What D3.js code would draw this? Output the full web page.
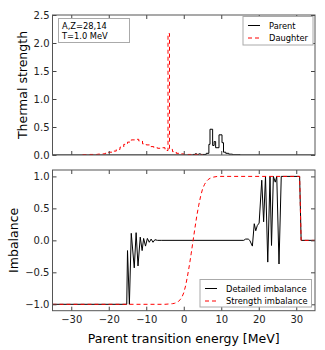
<!DOCTYPE html>
<html>
<head>
<meta charset="utf-8">
<script src="https://cdn.jsdelivr.net/npm/d3@7"></script>
<style>
  body { margin: 0; background: #fff; }
  svg { font-family: "DejaVu Sans", sans-serif; }
</style>
</head>
<body>
<div id="chart"></div>
<script>
// energy axis
const energyTicks = [-30, -20, -10, 0, 10, 20, 30];
const strengthTicks = [0, 0.5, 1.0, 1.5, 2.0, 2.5];
const imbalanceTicks = [-1.0, -0.5, 0, 0.5, 1.0];

// top panel, step histograms (bin left edges + strength)
const parentE = [-35, 2.5, 3, 3.5, 4, 4.5, 5, 6, 6.7, 7.0, 7.7, 8.1, 8.5, 9.4, 10.2, 10.6, 11.2, 12, 13, 15, 35];
const parentS = [0, 0.01, 0.02, 0.005, 0.02, 0.01, 0.01, 0.03, 0.19, 0.46, 0.17, 0.24, 0.13, 0.36, 0.22, 0.05, 0.03, 0.015, 0.005, 0, 0];

const daughterE = [-27, -26, -25, -24, -23, -22, -21, -20, -19, -18, -17, -16, -15, -14, -13, -12, -11, -10, -9, -8, -7, -6, -5,
  -4.2, -3.8, -3, -2, -1, 0, 1, 2, 3, 4, 5];
const daughterS = [0.005, 0.005, 0.01, 0.01, 0.015, 0.02, 0.03, 0.05, 0.07, 0.1, 0.14, 0.19, 0.23, 0.27, 0.28, 0.25, 0.2, 0.18, 0.15, 0.13, 0.12, 0.13, 0.08,
  2.17, 0.1, 0.06, 0.03, 0.02, 0.01, 0.01, 0.005, 0.01, 0.003, 0.003];

// bottom panel
const detailedE = [-35, -15.2, -15.0, -14.5, -14.0, -13.2, -12.7, -12.2, -11.6, -11.1, -10.7, -10.2, -9.7, -9.2, -8.7, -8.2, -7.7, -7.0, -6.0,
  16.0, 16.5, 17.2, 17.6, 18.3, 18.8, 19.2, 19.6, 20.1, 20.8, 21.3, 21.8, 22.4, 23.0, 23.4, 23.9, 24.4, 24.8, 25.4, 26.0, 30.9, 31.3, 35];
const detailedI = [-1, -1, -0.16, -1, 0.11, -0.43, 0.12, -0.4, 0.05, -0.16, 0.03, -0.09, 0.03, -0.03, 0.02, -0.03, 0.01, 0, 0,
  0, 0.02, 0.02, 0, -0.09, 0.26, 0.15, 0.23, 0.27, 0.94, 0.29, 1.0, -0.34, 1.0, -0.08, 1.0, 0.91, 1.0, -0.37, 1.0, 1.0, 0, 0];

const strengthE = [-35, -5, -4, -3, -2.5, -2, -1.5, -1, -0.5, 0, 0.5, 1, 1.5, 2, 2.5, 3, 3.5, 4, 4.5, 5, 5.5, 6, 6.5, 7, 7.5, 8, 9, 30.9, 31.3, 35];
const strengthI = [-1, -1, -0.995, -0.99, -0.985, -0.975, -0.96, -0.93, -0.89, -0.82, -0.71, -0.56, -0.39, -0.2, 0, 0.2, 0.39, 0.55, 0.69, 0.8, 0.87, 0.92, 0.95, 0.97, 0.98, 0.99, 1, 1, 0, 0];

const W = 325, H = 350;
const left = 52.5, right = 315;
const top1 = 15, bot1 = 155, top2 = 170, bot2 = 310.7;

let svg = d3.select("#chart").append("svg")
    .attr("width", W).attr("height", H);

let x = d3.scaleLinear().domain([-35, 35]).range([left, right]);
let y1 = d3.scaleLinear().domain([0, 2.5]).range([bot1, top1]);
let y2 = d3.scaleLinear().domain([-1.1, 1.1]).range([bot2, top2]);

let clip = svg.append("defs");
clip.append("clipPath").attr("id", "c1").append("rect")
    .attr("x", left).attr("y", top1).attr("width", right - left).attr("height", bot1 - top1);
clip.append("clipPath").attr("id", "c2").append("rect")
    .attr("x", left).attr("y", top2).attr("width", right - left).attr("height", bot2 - top2);

function stepLine(E, S, yScale) {
    const pts = E.map((e, i) => [e, S[i]]);
    return d3.line().x(d => x(d[0])).y(d => yScale(d[1])).curve(d3.curveStepAfter)(pts);
}
function plainLine(E, S, yScale) {
    const pts = E.map((e, i) => [e, S[i]]);
    return d3.line().x(d => x(d[0])).y(d => yScale(d[1]))(pts);
}

// ---- top panel ----
let g1 = svg.append("g").attr("clip-path", "url(#c1)");
g1.append("path").attr("d", stepLine(parentE, parentS, y1))
    .attr("fill", "none").attr("stroke", "#000").attr("stroke-width", 1);
g1.append("path").attr("d", stepLine(daughterE, daughterS, y1))
    .attr("fill", "none").attr("stroke", "#ff0000").attr("stroke-width", 1)
    .attr("stroke-dasharray", "4,3");

// ---- bottom panel ----
let g2 = svg.append("g").attr("clip-path", "url(#c2)");
g2.append("path").attr("d", plainLine(detailedE, detailedI, y2))
    .attr("fill", "none").attr("stroke", "#000").attr("stroke-width", 1);
g2.append("path").attr("d", plainLine(strengthE, strengthI, y2))
    .attr("fill", "none").attr("stroke", "#ff0000").attr("stroke-width", 1)
    .attr("stroke-dasharray", "4,3");

// axes (inward ticks on all sides, like matplotlib classic)
function axes(yScale, yTicks, top, bot, showX) {
    let ax = svg.append("g");
    ax.append("g").attr("transform", `translate(0,${bot})`)
        .call(d3.axisBottom(x).tickValues(energyTicks).tickSize(-4).tickPadding(5)
            .tickFormat(showX ? d3.format("d") : ""));
    ax.append("g").attr("transform", `translate(0,${top})`)
        .call(d3.axisTop(x).tickValues(energyTicks).tickSize(-4).tickFormat(""));
    ax.append("g").attr("transform", `translate(${left},0)`)
        .call(d3.axisLeft(yScale).tickValues(yTicks).tickSize(-4).tickPadding(3)
            .tickFormat(d3.format(".1f")));
    ax.append("g").attr("transform", `translate(${right},0)`)
        .call(d3.axisRight(yScale).tickValues(yTicks).tickSize(-4).tickFormat(""));
    ax.selectAll(".domain").remove();
    ax.selectAll(".tick line").attr("stroke", "#444");
    ax.selectAll(".tick text").attr("font-size", 10).attr("fill", "#222")
        .attr("font-family", "DejaVu Sans");
    ax.append("rect").attr("x", left).attr("y", top)
        .attr("width", right - left).attr("height", bot - top)
        .attr("fill", "none").attr("stroke", "#555").attr("stroke-width", 1);
}
axes(y1, strengthTicks, top1, bot1, false);
axes(y2, imbalanceTicks, top2, bot2, true);

// axis labels
svg.append("text").attr("transform", `translate(27,${(top1 + bot1) / 2}) rotate(-90)`)
    .attr("text-anchor", "middle").attr("font-size", 12.5).text("Thermal strength");
svg.append("text").attr("transform", `translate(18,${(top2 + bot2) / 2}) rotate(-90)`)
    .attr("text-anchor", "middle").attr("font-size", 12.5).text("Imbalance");
svg.append("text").attr("x", (left + right) / 2).attr("y", 343)
    .attr("text-anchor", "middle").attr("font-size", 12.5).text("Parent transition energy [MeV]");

// info box
let info = svg.append("g");
info.append("rect").attr("x", 58.5).attr("y", 18.5).attr("width", 71).attr("height", 24)
    .attr("fill", "#fff").attr("stroke", "#aaa");
info.append("text").attr("x", 62).attr("y", 28.5).attr("font-size", 8.3).text("A,Z=28,14");
info.append("text").attr("x", 62).attr("y", 39).attr("font-size", 8.3).text("T=1.0 MeV");

// legends
function legend(x0, y0, w, h, items) {
    let lg = svg.append("g");
    lg.append("rect").attr("x", x0).attr("y", y0).attr("width", w).attr("height", h)
        .attr("fill", "#fff").attr("stroke", "#aaa");
    items.forEach((it, i) => {
        let yy = y0 + 9 + i * 12.5;
        lg.append("line").attr("x1", x0 + 5).attr("x2", x0 + 17).attr("y1", yy).attr("y2", yy)
            .attr("stroke", it.color).attr("stroke-dasharray", it.dash);
        lg.append("text").attr("x", x0 + 26).attr("y", yy + 3).attr("font-size", 8.3).text(it.label);
    });
}
legend(243, 16.5, 70, 28.5, [
    {label: "Parent", color: "#000", dash: null},
    {label: "Daughter", color: "#ff0000", dash: "4,3"}
]);
legend(200, 279.5, 111.5, 27.5, [
    {label: "Detailed imbalance", color: "#000", dash: null},
    {label: "Strength imbalance", color: "#ff0000", dash: "4,3"}
]);
</script>
</body>
</html>
